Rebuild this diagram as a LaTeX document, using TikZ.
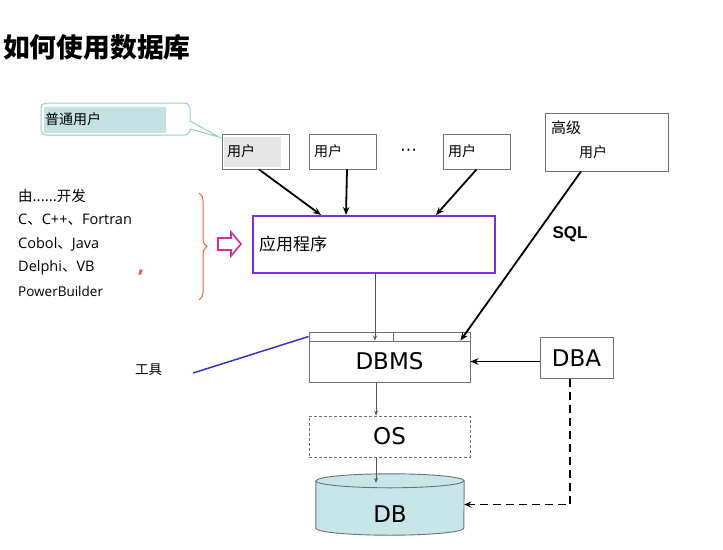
\documentclass[tikz,border=0pt]{standalone}
\usepackage{fontspec}
\setmainfont{Open Sans}
\newfontfamily\cjk{Noto Sans CJK SC}
\newfontfamily\dvs{DejaVu Sans}
\newfontfamily\lsans{Liberation Sans}
\usetikzlibrary{arrows.meta,decorations.pathreplacing,calc}
\definecolor{boxgray}{HTML}{707070}
\definecolor{userfill}{HTML}{E6E6E6}
\definecolor{callteal}{HTML}{8ECFD0}
\definecolor{callfill}{HTML}{C4E2E2}
\definecolor{apppurple}{HTML}{7A2FE0}
\definecolor{dbfill}{HTML}{C6E6EA}
\definecolor{bracecol}{HTML}{E0603A}
\definecolor{arrmag}{HTML}{D0309A}
\definecolor{toolblue}{HTML}{3434D0}
\definecolor{thin}{HTML}{555555}
\tikzset{
  userbox/.style={draw=boxgray, line width=0.9pt, fill=white, minimum width=67, minimum height=35,
    inner xsep=5pt, text width=57, align=left, font=\cjk\fontsize{14}{16}\selectfont},
  plainbox/.style={draw=boxgray, line width=0.9pt, fill=white, inner sep=0pt},
  bigtxt/.style={font=\dvs\fontsize{23}{26}\selectfont},
  thick arrow/.style={line width=1.8pt, -{Stealth[length=8pt,width=6.5pt]}},
  thin arrow/.style={draw=thin, line width=0.8pt, -{Stealth[length=5pt,width=4pt]}},
  lefttxt/.style={anchor=west, inner sep=0pt, font=\fontsize{14.5}{17}\selectfont},
}
\begin{document}
\begin{tikzpicture}[x=1pt,y=-1pt]
\useasboundingbox (0,0) rectangle (723,549);
% title
\node[anchor=west, inner sep=0pt, font=\cjk\bfseries\fontsize{26.8}{28}\selectfont] (title) at (3,47) {如何使用数据库};
% callout
\draw[callteal, line width=1pt, fill=white] (41,119) [rounded corners=5pt] -- (41,103) -- (190,103) [sharp corners] -- (190,121) -- (219,137) -- (190,129) [rounded corners=5pt] -- (190,135) -- (41,135) -- cycle;
\fill[callfill] (44,107) rectangle (166,133);
\node[anchor=west, inner sep=0pt, font=\cjk\fontsize{14}{16}\selectfont] (calltxt) at (45,119) {普通用户};
% users
\node[userbox, path picture={\fill[userfill] ([xshift=2pt,yshift=-3pt]path picture bounding box.north west) rectangle ([xshift=-8pt,yshift=2pt]path picture bounding box.south east);}] (u1) at (255.5,151.5) {用户};
\node[userbox] (u2) at (342.5,151.5) {用户};
\node[inner sep=0pt, font=\dvs\fontsize{17}{18}\selectfont] (dots) at (408.5,152.5) {⋯};
\node[userbox] (u3) at (476.5,151.5) {用户};
\node[plainbox, minimum width=123, minimum height=58] (adv) at (606.5,142) {};
\node[anchor=west, inner sep=0pt, font=\cjk\fontsize{15}{16}\selectfont] (advt1) at (551,128) {高级};
\node[anchor=west, inner sep=0pt, font=\cjk\fontsize{14}{16}\selectfont] (advt2) at (579,152) {用户};
% application
\node[draw=apppurple, line width=2pt, fill=white, minimum width=242, minimum height=57, inner xsep=6pt, text width=230, align=left, font=\cjk\fontsize{17}{19}\selectfont] (app) at (374,244.5) {应用程序};
% left texts
\node[lefttxt] (l1) at (18,196) {\cjk 由......开发};
\node[lefttxt] (l2) at (18,220) {C{\cjk 、}C++{\cjk 、}Fortran};
\node[lefttxt] (l3) at (18,244) {Cobol{\cjk 、}Java};
\node[lefttxt] (l4) at (18,268) {Delphi{\cjk 、}VB};
\node[lefttxt, font=\fontsize{13.5}{15}\selectfont] (l5) at (18,291) {PowerBuilder};
\node[inner sep=0pt, text=bracecol, font=\bfseries\fontsize{22}{22}\selectfont] (comma) at (141,273) {,};
\coordinate (bt) at (199,193);
\coordinate (bb) at (199,300);
\draw[bracecol, line width=1pt, decorate, decoration={brace, amplitude=8pt}] (bt) -- (bb);
\draw[arrmag, line width=1.6pt, fill=white] (218,238) -- (231,238) -- (231,232) -- (241,244) -- (231,256) -- (231,250) -- (218,250) -- cycle;
% DBMS
\node[plainbox, minimum width=161, minimum height=9] (strip) at (389.5,336.5) {};
\draw[boxgray, line width=0.9pt] (393,332) -- (393,341);
\node[plainbox, minimum width=161, minimum height=41, bigtxt] (dbms) at (389.5,361.5) {DBMS};
\node[plainbox, minimum width=73, minimum height=41, bigtxt] (dba) at (576.5,358) {DBA};
\node[draw=boxgray, line width=0.8pt, dash pattern=on 3pt off 2pt, fill=white, minimum width=161, minimum height=41, bigtxt, inner sep=0pt] (os) at (389.5,436.5) {OS};
% DB cylinder
\node[minimum width=148, minimum height=61, inner sep=0pt] (db) at (390,504.5) {};
\draw[boxgray, line width=0.9pt, fill=dbfill] ($(db.north west)+(0,7)$) -- ($(db.south west)+(0,-7)$) arc (180:360:74pt and 7pt) -- ($(db.north east)+(0,7)$) arc (0:180:74pt and 7pt) -- cycle;
\draw[boxgray, line width=0.9pt] ($(db.north west)+(0,7)$) arc (180:360:74pt and 7pt);
\node[bigtxt, inner sep=0pt] (dbt) at (390,514) {DB};
% tool
\node[inner sep=0pt, font=\cjk\fontsize{13.5}{16}\selectfont] (tool) at (148.5,370) {工具};
\draw[toolblue, line width=1.5pt] ([xshift=31pt, yshift=-3pt]tool.east) -- (strip.west);
% SQL
\node[inner sep=0pt, font=\lsans\bfseries\fontsize{17}{19}\selectfont] (sql) at (570,234) {SQL};
% connectors
\draw[thick arrow] ([xshift=3.5pt]u1.south) -- ([xshift=69pt]app.north west);
\draw[thick arrow] ([xshift=4.5pt]u2.south) -- ([xshift=94pt]app.north west);
\draw[thick arrow] (u3.south) -- ([xshift=184pt]app.north west);
\draw[thick arrow] ([xshift=-25.5pt]adv.south) -- ([xshift=-10pt]dbms.north east);
\draw[thin arrow] ([xshift=1pt]app.south) -- ([xshift=1pt]app.south |- dbms.north);
\draw[thin arrow] ([xshift=-13.5pt]dbms.south) -- ([xshift=-13.5pt]dbms.south |- os.north);
\draw[thin arrow] ([xshift=-13.5pt]os.south) -- ([xshift=-13.5pt,yshift=-9pt]os.south |- db.north);
\draw[thick arrow, line width=1.6pt] (dba.west |- dbms.east) -- (dbms.east);
\draw[line width=1.8pt, dash pattern=on 8pt off 5pt, -{Stealth[length=7pt,width=6pt]}] ([xshift=-6.5pt]dba.south) |- (db.east);
\end{tikzpicture}
\end{document}
